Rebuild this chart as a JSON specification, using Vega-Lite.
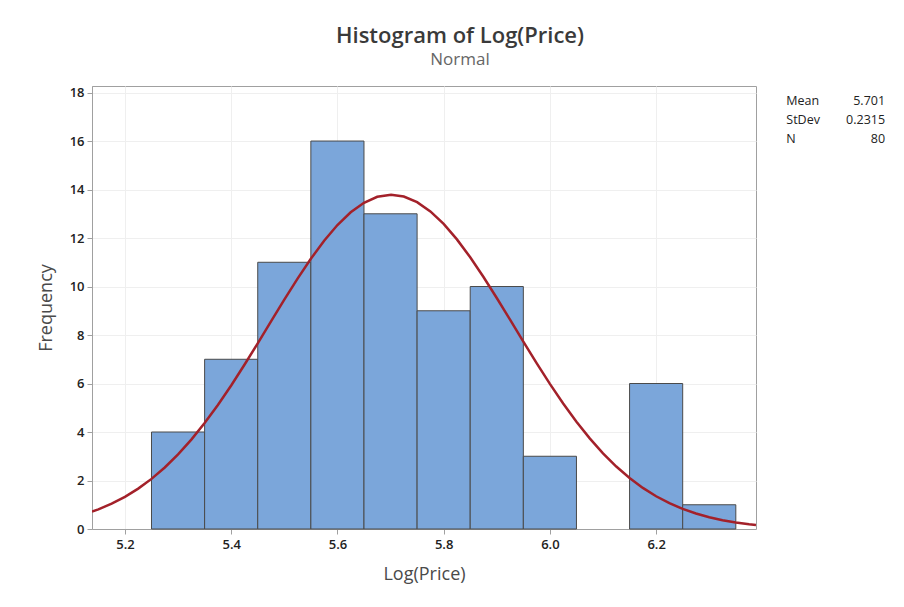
{
  "$schema": "https://vega.github.io/schema/vega-lite/v6.json",
  "width": 664,
  "height": 443,
  "autosize": "none",
  "padding": {"left": 92, "top": 86, "right": 148, "bottom": 78},
  "background": "white",
  "title": {
    "text": "Histogram of Log(Price)",
    "subtitle": "Normal",
    "anchor": "middle",
    "frame": "group",
    "dx": 36,
    "offset": 17,
    "font": "Open Sans",
    "fontSize": 22,
    "fontWeight": 600,
    "color": "#3a3a3a",
    "subtitleFont": "Open Sans",
    "subtitleFontSize": 17,
    "subtitleColor": "#666666",
    "subtitlePadding": 4
  },
  "config": {
    "view": {"stroke": "#a0a0a0", "strokeWidth": 1},
    "axis": {
      "labelFont": "Open Sans",
      "labelFontSize": 13,
      "labelFontWeight": 600,
      "labelColor": "#222222",
      "titleFont": "Open Sans",
      "titleFontSize": 18,
      "titleFontWeight": 500,
      "titleColor": "#4a4a4a",
      "domainColor": "#a0a0a0",
      "tickColor": "#a0a0a0",
      "tickSize": 5,
      "gridColor": "#efefef",
      "gridWidth": 1
    }
  },
  "datasets": {
    "bins": [
      {"start": 5.25, "end": 5.35, "count": 4},
      {"start": 5.35, "end": 5.45, "count": 7},
      {"start": 5.45, "end": 5.55, "count": 11},
      {"start": 5.55, "end": 5.65, "count": 16},
      {"start": 5.65, "end": 5.75, "count": 13},
      {"start": 5.75, "end": 5.85, "count": 9},
      {"start": 5.85, "end": 5.95, "count": 10},
      {"start": 5.95, "end": 6.05, "count": 3},
      {"start": 6.15, "end": 6.25, "count": 6},
      {"start": 6.25, "end": 6.35, "count": 1}
    ],
    "curve": [
      {"x": 5.138, "y": 0.7164},
      {"x": 5.15, "y": 0.8115},
      {"x": 5.175, "y": 1.0433},
      {"x": 5.2, "y": 1.3257},
      {"x": 5.225, "y": 1.665},
      {"x": 5.25, "y": 2.0668},
      {"x": 5.275, "y": 2.536},
      {"x": 5.3, "y": 3.0755},
      {"x": 5.325, "y": 3.6865},
      {"x": 5.35, "y": 4.3677},
      {"x": 5.375, "y": 5.1149},
      {"x": 5.4, "y": 5.9203},
      {"x": 5.425, "y": 6.7732},
      {"x": 5.45, "y": 7.6591},
      {"x": 5.475, "y": 8.5605},
      {"x": 5.5, "y": 9.4569},
      {"x": 5.525, "y": 10.3262},
      {"x": 5.55, "y": 11.1446},
      {"x": 5.575, "y": 11.8883},
      {"x": 5.6, "y": 12.5348},
      {"x": 5.625, "y": 13.0631},
      {"x": 5.65, "y": 13.4557},
      {"x": 5.675, "y": 13.6996},
      {"x": 5.701, "y": 13.7863},
      {"x": 5.725, "y": 13.7124},
      {"x": 5.75, "y": 13.4809},
      {"x": 5.775, "y": 13.0996},
      {"x": 5.8, "y": 12.5817},
      {"x": 5.825, "y": 11.9439},
      {"x": 5.85, "y": 11.207},
      {"x": 5.875, "y": 10.3938},
      {"x": 5.9, "y": 9.5278},
      {"x": 5.925, "y": 8.6326},
      {"x": 5.95, "y": 7.7309},
      {"x": 5.975, "y": 6.8431},
      {"x": 6.0, "y": 5.987},
      {"x": 6.025, "y": 5.1773},
      {"x": 6.05, "y": 4.4252},
      {"x": 6.075, "y": 3.7385},
      {"x": 6.1, "y": 3.1218},
      {"x": 6.125, "y": 2.5765},
      {"x": 6.15, "y": 2.1018},
      {"x": 6.175, "y": 1.6947},
      {"x": 6.2, "y": 1.3506},
      {"x": 6.225, "y": 1.064},
      {"x": 6.25, "y": 0.8284},
      {"x": 6.275, "y": 0.6375},
      {"x": 6.3, "y": 0.4849},
      {"x": 6.325, "y": 0.3646},
      {"x": 6.35, "y": 0.2709},
      {"x": 6.375, "y": 0.199},
      {"x": 6.388, "y": 0.1687}
    ]
  },
  "layer": [
    {
      "data": {"name": "bins"},
      "mark": {"type": "bar", "fill": "#7BA6DA", "stroke": "#4a4a4a", "strokeWidth": 1},
      "encoding": {
        "x": {
          "field": "start",
          "type": "quantitative",
          "title": "Log(Price)",
          "scale": {"domain": [5.138, 6.388], "nice": false, "zero": false},
          "axis": {"values": [5.2, 5.4, 5.6, 5.8, 6.0, 6.2], "format": ".1f", "titlePadding": 14, "labelPadding": 4}
        },
        "x2": {"field": "end"},
        "y": {
          "field": "count",
          "type": "quantitative",
          "title": "Frequency",
          "scale": {"domain": [0, 18.27], "nice": false, "padding": 0},
          "axis": {"values": [0, 2, 4, 6, 8, 10, 12, 14, 16, 18], "titlePadding": 14, "labelPadding": 3}
        },
        "y2": {"datum": 0}
      }
    },
    {
      "data": {"name": "curve"},
      "mark": {"type": "line", "color": "#A3212A", "strokeWidth": 2.5, "clip": true},
      "encoding": {
        "x": {"field": "x", "type": "quantitative"},
        "y": {"field": "y", "type": "quantitative"}
      }
    },
    {
      "data": {"values": [{}]},
      "mark": {"type": "text", "text": ["Mean", "StDev", "N"], "align": "left", "baseline": "alphabetic", "font": "Open Sans", "fontSize": 12.5, "lineHeight": 19, "color": "#222222"},
      "encoding": {
        "x": {"datum": 6.445},
        "y": {"datum": 17.5}
      }
    },
    {
      "data": {"values": [{}]},
      "mark": {"type": "text", "text": ["5.701", "0.2315", "80"], "align": "right", "baseline": "alphabetic", "font": "Open Sans", "fontSize": 12.5, "lineHeight": 19, "color": "#222222"},
      "encoding": {
        "x": {"datum": 6.631},
        "y": {"datum": 17.5}
      }
    }
  ]
}
